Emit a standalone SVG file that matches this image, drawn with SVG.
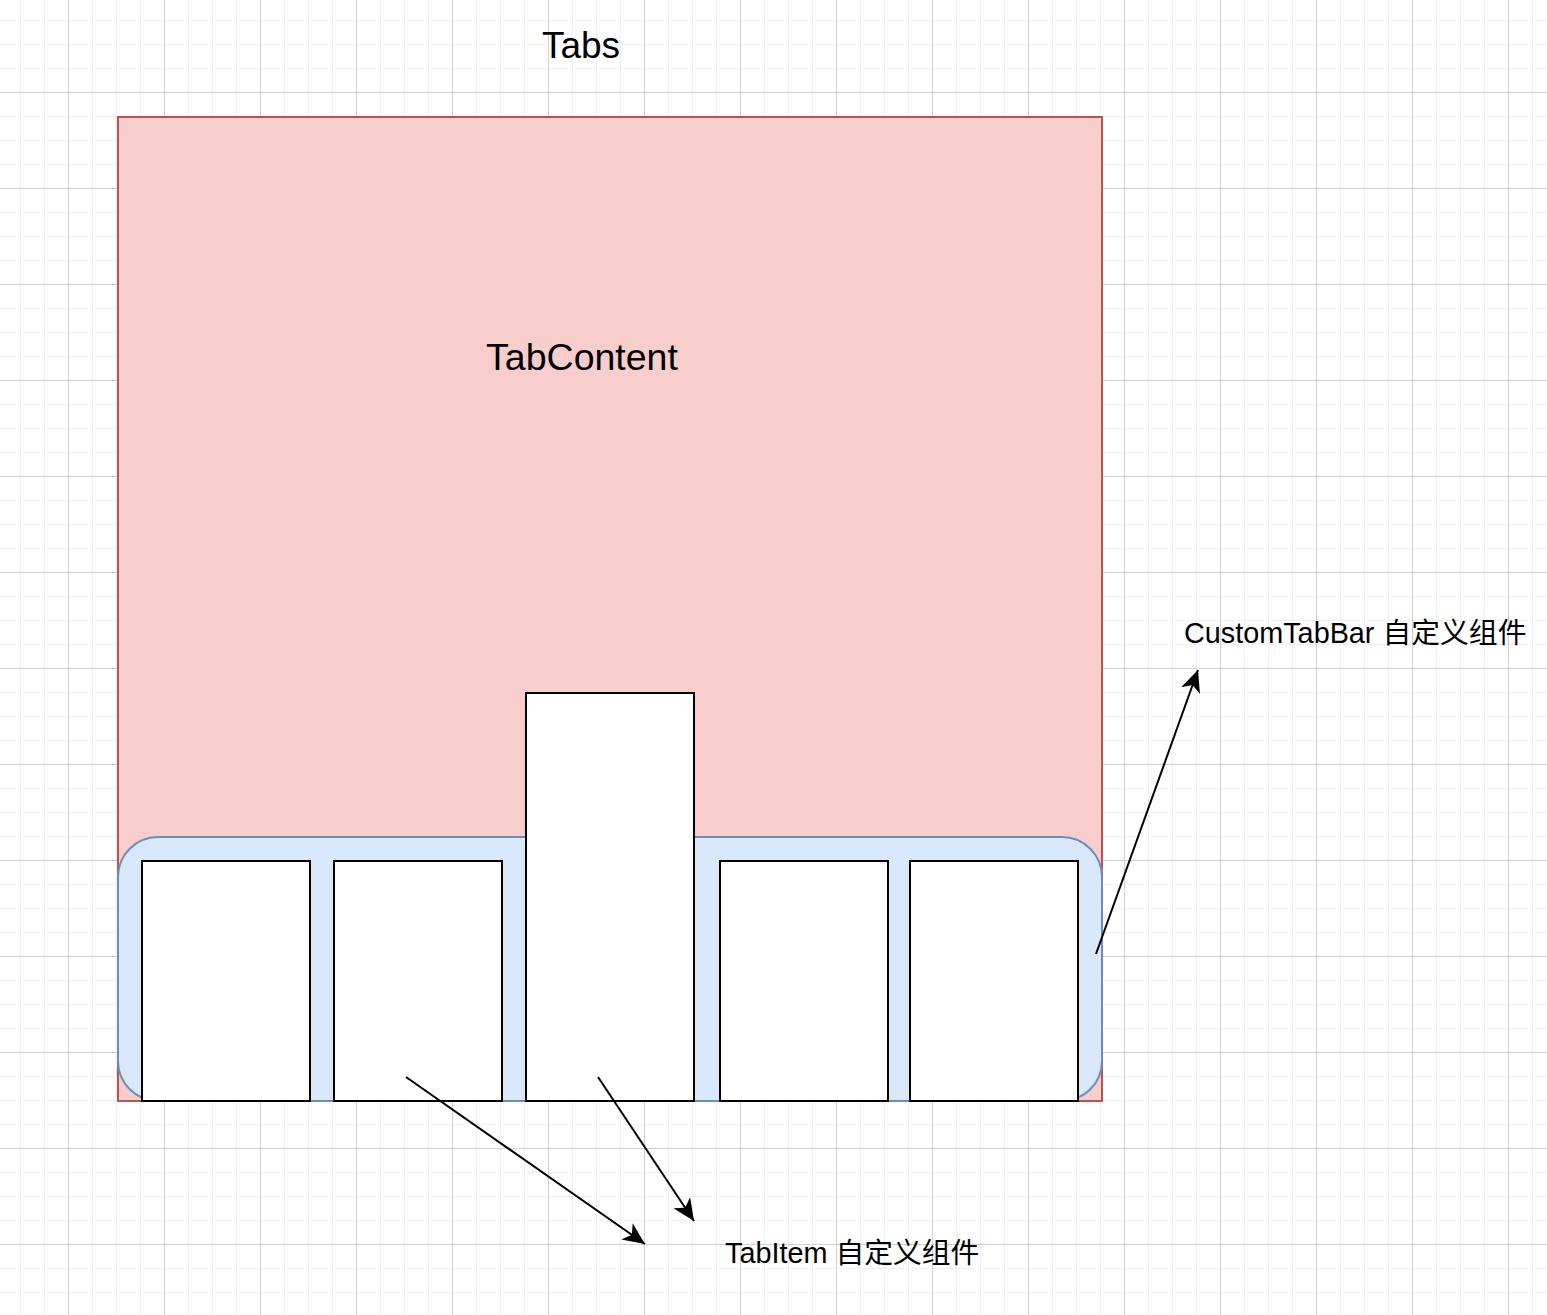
<svg xmlns="http://www.w3.org/2000/svg" width="1547" height="1315" viewBox="0 0 1547 1315">
  <style>
    .label { font-family: "Liberation Sans", Arial, "Noto Sans CJK SC", sans-serif; fill: #000000; }
    .item { fill: #ffffff; stroke: #000000; stroke-width: 2; }
    .link { fill: none; stroke: #000000; stroke-width: 2; }
  </style>
  <defs>
    <pattern id="gridMinor" patternUnits="userSpaceOnUse" x="20" y="20" width="24" height="24">
      <rect x="0" y="0" width="1" height="24" fill="#f0f0f0"/>
      <rect x="0" y="0" width="24" height="1" fill="#f0f0f0"/>
    </pattern>
    <pattern id="gridMajor" patternUnits="userSpaceOnUse" x="68" y="92" width="96" height="96">
      <rect x="0" y="0" width="1" height="96" fill="#d0d0d0"/>
      <rect x="0" y="0" width="96" height="1" fill="#d0d0d0"/>
    </pattern>
    <marker id="arrow" markerUnits="userSpaceOnUse" markerWidth="24" markerHeight="22" refX="22" refY="10" orient="auto">
      <path d="M0,0 L22,10 L0,20 L6,10 Z" fill="#000000"/>
    </marker>
  </defs>

  <!-- background grid -->
  <rect width="1547" height="1315" fill="#ffffff"/>
  <rect width="1547" height="1315" fill="url(#gridMinor)"/>
  <rect width="1547" height="1315" fill="url(#gridMajor)"/>

  <g id="tabs-title">
    <text class="label" x="581" y="58" font-size="37" text-anchor="middle">Tabs</text>
  </g>

  <g id="tab-content">
    <rect x="118" y="117" width="984" height="984" fill="#f8cecc" stroke="#b85450" stroke-width="2"/>
    <text class="label" x="582" y="370" font-size="37.5" text-anchor="middle">TabContent</text>
  </g>

  <g id="custom-tab-bar">
    <rect x="118" y="837" width="984" height="264" rx="40" ry="40" fill="#dae8fc" stroke="#6c8ebf" stroke-width="2"/>
  </g>

  <g id="tab-item-1"><rect class="item" x="142" y="861" width="168" height="240"/></g>
  <g id="tab-item-2"><rect class="item" x="334" y="861" width="168" height="240"/></g>
  <g id="tab-item-3"><rect class="item" x="526" y="693" width="168" height="408"/></g>
  <g id="tab-item-4"><rect class="item" x="720" y="861" width="168" height="240"/></g>
  <g id="tab-item-5"><rect class="item" x="910" y="861" width="168" height="240"/></g>

  <g id="custom-tab-bar-label">
    <text class="label" x="1184" y="643" font-size="28.8">CustomTabBar 自定义组件</text>
  </g>
  <g id="tab-item-label">
    <text class="label" x="725" y="1263" font-size="28.8">TabItem 自定义组件</text>
  </g>

  <g id="connectors">
    <line class="link" x1="1096" y1="954" x2="1198" y2="670" marker-end="url(#arrow)"/>
    <line class="link" x1="406" y1="1077" x2="645" y2="1244" marker-end="url(#arrow)"/>
    <line class="link" x1="598" y1="1077" x2="694" y2="1221" marker-end="url(#arrow)"/>
  </g>
</svg>
